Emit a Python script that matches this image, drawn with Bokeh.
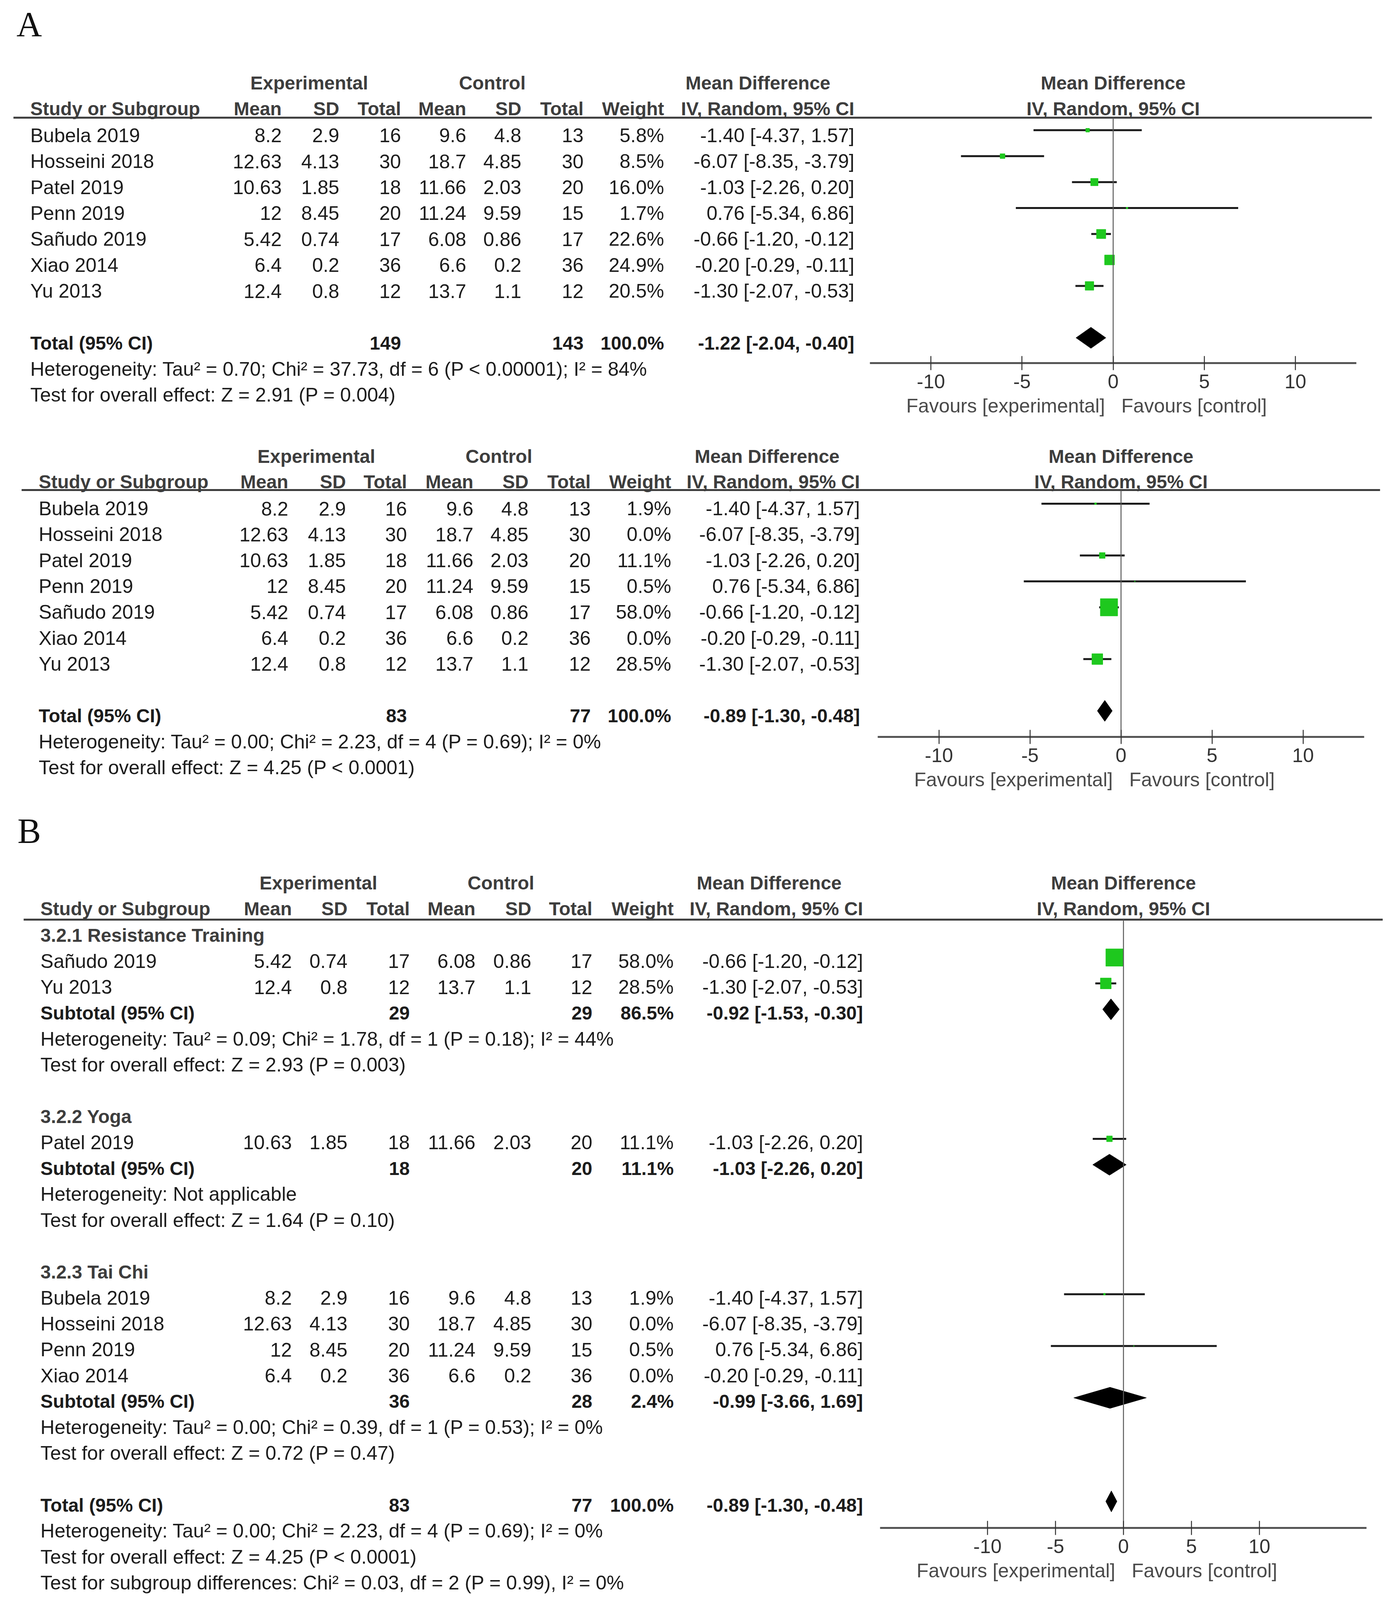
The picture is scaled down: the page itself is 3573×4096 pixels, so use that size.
from bokeh.plotting import figure
from bokeh.models import Range1d, LinearAxis, FixedTicker
from bokeh.core.properties import value
from bokeh.embed import file_html
from bokeh.resources import INLINE

# ------------------------------------------------------------------ data
studies   = ["Bubela 2019", "Hosseini 2018", "Patel 2019", "Penn 2019",
             "Sañudo 2019", "Xiao 2014", "Yu 2013"]
exp_mean  = [8.2, 12.63, 10.63, 12, 5.42, 6.4, 12.4]
exp_sd    = [2.9, 4.13, 1.85, 8.45, 0.74, 0.2, 0.8]
exp_n     = [16, 30, 18, 20, 17, 36, 12]
ctl_mean  = [9.6, 18.7, 11.66, 11.24, 6.08, 6.6, 13.7]
ctl_sd    = [4.8, 4.85, 2.03, 9.59, 0.86, 0.2, 1.1]
ctl_n     = [13, 30, 20, 15, 17, 36, 12]
md        = [-1.40, -6.07, -1.03, 0.76, -0.66, -0.20, -1.30]
md_lo     = [-4.37, -8.35, -2.26, -5.34, -1.20, -0.29, -2.07]
md_hi     = [1.57, -3.79, 0.20, 6.86, -0.12, -0.11, -0.53]
weight_a1 = [5.8, 8.5, 16.0, 1.7, 22.6, 24.9, 20.5]
weight_a2 = [1.9, 0.0, 11.1, 0.5, 58.0, 0.0, 28.5]

# n_exp, n_ctl, weight, md, lower, upper
total_a1 = [149, 143, 100.0, -1.22, -2.04, -0.40]
total_a2 = [83, 77, 100.0, -0.89, -1.30, -0.48]
notes_a1 = ["Heterogeneity: Tau² = 0.70; Chi² = 37.73, df = 6 (P < 0.00001); I² = 84%",
            "Test for overall effect: Z = 2.91 (P = 0.004)"]
notes_a2 = ["Heterogeneity: Tau² = 0.00; Chi² = 2.23, df = 4 (P = 0.69); I² = 0%",
            "Test for overall effect: Z = 4.25 (P < 0.0001)"]

group_names   = ["3.2.1 Resistance Training", "3.2.2 Yoga", "3.2.3 Tai Chi"]
group_studies = [["Sañudo 2019", "Yu 2013"], ["Patel 2019"],
                 ["Bubela 2019", "Hosseini 2018", "Penn 2019", "Xiao 2014"]]
group_weights = [[58.0, 28.5], [11.1], [1.9, 0.0, 0.5, 0.0]]
group_n_exp   = [29, 18, 36]
group_n_ctl   = [29, 20, 28]
group_weight  = [86.5, 11.1, 2.4]
group_md      = [-0.92, -1.03, -0.99]
group_lo      = [-1.53, -2.26, -3.66]
group_hi      = [-0.30, 0.20, 1.69]
group_notes   = [["Heterogeneity: Tau² = 0.09; Chi² = 1.78, df = 1 (P = 0.18); I² = 44%",
                  "Test for overall effect: Z = 2.93 (P = 0.003)"],
                 ["Heterogeneity: Not applicable",
                  "Test for overall effect: Z = 1.64 (P = 0.10)"],
                 ["Heterogeneity: Tau² = 0.00; Chi² = 0.39, df = 1 (P = 0.53); I² = 0%",
                  "Test for overall effect: Z = 0.72 (P = 0.47)"]]
total_b = [83, 77, 100.0, -0.89, -1.30, -0.48]
notes_b = ["Heterogeneity: Tau² = 0.00; Chi² = 2.23, df = 4 (P = 0.69); I² = 0%",
           "Test for overall effect: Z = 4.25 (P < 0.0001)",
           "Test for subgroup differences: Chi² = 0.03, df = 2 (P = 0.99), I² = 0%"]

col_titles   = ["Mean", "SD", "Total", "Mean", "SD", "Total", "Weight", "IV, Random, 95% CI"]
group_titles = ["Experimental", "Control", "Mean Difference"]
xticks  = [-10, -5, 0, 5, 10]
xtick_labels = ["-10", "-5", "0", "5", "10"]
favours = ["Favours [experimental]", "Favours [control]"]

# ------------------------------------------------------------------ layout
K = 4095 / 1368 * 0.872          # shown-reference px -> page px
def S(v):
    return v * K

W, H = 3571, 4093
FONT = "Liberation Sans"
FS, FSB = 50, 48
BASE = -0.02                     # anchor shift (em) so the cap centre sits on the row
TXT, HDR, RULE, ZERO, CI, FAV = "#1c1c1c", "#3d3d3d", "#3d3d3d", "#5a5a5a", "#1a1a1a", "#4a4a4a"
GREEN = "#1ec81e"
AXIS_HALF = 238.5
DIAMOND_HALF = 27.0

PANELS = {
    "a1": dict(t0=133.0, step=25.45, f0=127.5, zero=1091.3, unit=17.87, name_x=29.5,
               cols=[276, 332.5, 393, 457, 511, 572, 651, 837.5],
               hdr=[303, 482.5, 743], rule=(13, 1345, -0.70), zline=(-0.48, 8.97), axis=8.97),
    "a2": dict(t0=499.0, step=25.4, f0=493.8, zero=1099.0, unit=17.85, name_x=37.7,
               cols=[282.5, 339, 398.8, 464, 518, 579, 658, 843],
               hdr=[310, 489, 752], rule=(21, 1353, -0.73), zline=(-0.52, 9.0), axis=9.0),
    "b":  dict(t0=917.5, step=25.4, f0=913.5, zero=1101.4, unit=13.33, name_x=39.5,
               cols=[286, 340.5, 401.6, 466, 520.8, 580.6, 660.4, 846],
               hdr=[312, 491, 754], rule=(23, 1355.6, -0.62), zline=(-0.46, 23.02), axis=23.02),
}

p = figure(frame_width=W, frame_height=H, x_range=Range1d(0, W), y_range=Range1d(H, 0),
           output_backend="svg", toolbar_location=None, x_axis_location=None,
           y_axis_location=None, min_border=0, outline_line_color=None,
           background_fill_color="white", border_fill_color="white")
p.grid.visible = False

xr, yr, rowpx = {}, {}, {}
for key, g in PANELS.items():
    d = g["step"] * K
    for nm, r0 in (("t" + key, g["t0"]), ("f" + key, g["f0"])):
        c0 = S(r0)
        yr[nm] = Range1d(start=(H - c0) / d, end=-c0 / d)
        rowpx[nm] = d
    x0 = S(g["zero"])
    u = g["unit"] * K
    xr["x" + key] = Range1d(start=-x0 / u, end=(W - x0) / u)
p.extra_y_ranges = yr
p.extra_x_ranges = xr


def txt(xs, rows, texts, yname, align="left", bold=False, color=TXT, xname="default", x_off=0):
    fs = FSB if bold else FS
    off = BASE * fs / rowpx[yname]
    p.text(x=list(xs), y=[r + off for r in rows], text=list(texts),
           x_range_name=xname, y_range_name=yname, text_align=align,
           text_baseline="alphabetic", text_font=value(FONT),
           text_font_size=f"{fs}px", text_font_style="bold" if bold else "normal",
           text_color=color, x_offset=x_off)


def fmt(v):
    return f"{v:g}"


def wfmt(w):
    return f"{w:.1f}%"


def cifmt(m, l, h):
    return f"{m:.2f} [{l:.2f}, {h:.2f}]"


def box(w):
    return 3.0 * w ** 0.664


def table_header(key):
    g = PANELS[key]
    t, x = "t" + key, "x" + key
    txt([S(c) for c in g["hdr"]], [-2.02] * 3, group_titles, t, "center", True, HDR)
    txt([0], [-2.02], ["Mean Difference"], t, "center", True, HDR, xname=x)
    txt([S(g["name_x"])], [-1.03], ["Study or Subgroup"], t, "left", True, HDR)
    txt([S(c) for c in g["cols"]], [-1.03] * 8, col_titles, t, "right", True, HDR)
    txt([0], [-1.03], ["IV, Random, 95% CI"], t, "center", True, HDR, xname=x)
    a, b, rr = g["rule"]
    p.segment(x0=[S(a)], y0=[rr], x1=[S(b)], y1=[rr], y_range_name=t,
              line_color=RULE, line_width=5)


def study_rows(key, idx, rows, weights):
    g = PANELS[key]
    t, f, x = "t" + key, "f" + key, "x" + key
    n = len(idx)
    txt([S(g["name_x"])] * n, rows, [studies[i] for i in idx], t)
    columns = [[fmt(exp_mean[i]) for i in idx], [fmt(exp_sd[i]) for i in idx],
               [str(exp_n[i]) for i in idx], [fmt(ctl_mean[i]) for i in idx],
               [fmt(ctl_sd[i]) for i in idx], [str(ctl_n[i]) for i in idx],
               [wfmt(w) for w in weights],
               [cifmt(md[i], md_lo[i], md_hi[i]) for i in idx]]
    for cx, vals in zip(g["cols"], columns):
        txt([S(cx)] * n, rows, vals, t, "right")
    keep = [k for k in range(n) if weights[k] > 0]
    p.segment(x0=[md_lo[idx[k]] for k in keep], y0=[rows[k] for k in keep],
              x1=[md_hi[idx[k]] for k in keep], y1=[rows[k] for k in keep],
              x_range_name=x, y_range_name=f, line_color=CI, line_width=5)
    p.scatter(x=[md[idx[k]] for k in keep], y=[rows[k] for k in keep],
              size=[box(weights[k]) for k in keep], marker="square",
              fill_color=GREEN, line_color=GREEN, x_range_name=x, y_range_name=f)


def summary_row(key, row, label, n_e, n_c, w, m, l, h):
    g = PANELS[key]
    t, f, x = "t" + key, "f" + key, "x" + key
    c = g["cols"]
    txt([S(g["name_x"])], [row], [label], t, "left", True)
    txt([S(c[2]), S(c[5]), S(c[6]), S(c[7])], [row] * 4,
        [str(n_e), str(n_c), wfmt(w), cifmt(m, l, h)], t, "right", True)
    hh = DIAMOND_HALF / rowpx[f]
    p.patch(x=[l, m, h, m], y=[row, row - hh, row, row + hh], x_range_name=x,
            y_range_name=f, fill_color="black", line_color="black", line_width=1)


def notes(key, rows, texts):
    txt([S(PANELS[key]["name_x"])] * len(rows), rows, texts, "t" + key)


def forest_frame(key):
    g = PANELS[key]
    f, x = "f" + key, "x" + key
    u = g["unit"] * K
    z0, z1 = g["zline"]
    p.segment(x0=[0], y0=[z0], x1=[0], y1=[z1], x_range_name=x, y_range_name=f,
              line_color=ZERO, line_width=2.5)
    half = AXIS_HALF * K / u
    ax = LinearAxis(x_range_name=x, y_range_name=f, fixed_location=g["axis"],
                    bounds=(-half, half), ticker=FixedTicker(ticks=xticks),
                    major_label_overrides=dict(zip(xticks, xtick_labels)))
    ax.axis_line_width = 5
    ax.axis_line_color = "#555555"
    ax.major_tick_in = 18
    ax.major_tick_out = 18
    ax.major_tick_line_width = 2.5
    ax.major_tick_line_color = "#333333"
    ax.minor_tick_line_color = None
    ax.major_label_text_font = FONT
    ax.major_label_text_font_size = "50px"
    ax.major_label_text_color = "#333333"
    ax.major_label_standoff = 12
    p.add_layout(ax, "below")
    txt([0], [g["axis"] + 1.67], [favours[0]], f, "right", color=FAV, xname=x, x_off=-21)
    txt([0], [g["axis"] + 1.67], [favours[1]], f, "left", color=FAV, xname=x, x_off=21)


# panel letters (cap centre at the reference position)
p.text(x=[S(16), S(17)], y=[S(24.3) + BASE * 90, S(815.5) + BASE * 90], text=["A", "B"],
       text_font=value("Liberation Serif"), text_font_size="90px",
       text_baseline="alphabetic", text_align="left", text_color="#111111")

# ---- Panel A (top)
table_header("a1")
idx_all = list(range(len(studies)))
study_rows("a1", idx_all, idx_all, weight_a1)
summary_row("a1", 8, "Total (95% CI)", *total_a1)
notes("a1", [9, 10], notes_a1)
forest_frame("a1")

# ---- Panel A (bottom)
table_header("a2")
study_rows("a2", idx_all, idx_all, weight_a2)
summary_row("a2", 8, "Total (95% CI)", *total_a2)
notes("a2", [9, 10], notes_a2)
forest_frame("a2")

# ---- Panel B (subgroups)
table_header("b")
r = 0
for gi, name in enumerate(group_names):
    txt([S(PANELS["b"]["name_x"])], [r], [name], "tb", "left", True, HDR)
    idx = [studies.index(s) for s in group_studies[gi]]
    rows = list(range(r + 1, r + 1 + len(idx)))
    study_rows("b", idx, rows, group_weights[gi])
    sr = r + 1 + len(idx)
    summary_row("b", sr, "Subtotal (95% CI)", group_n_exp[gi], group_n_ctl[gi],
                group_weight[gi], group_md[gi], group_lo[gi], group_hi[gi])
    notes("b", [sr + 1, sr + 2], group_notes[gi])
    r = sr + 4
summary_row("b", r, "Total (95% CI)", *total_b)
notes("b", [r + 1, r + 2, r + 3], notes_b)
forest_frame("b")

open("out.html", "w").write(file_html(p, INLINE))
